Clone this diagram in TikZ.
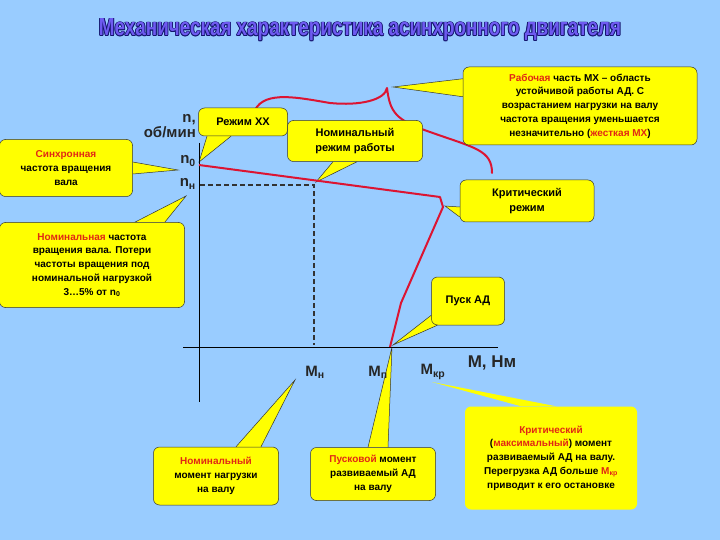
\documentclass[tikz,border=0pt]{standalone}
\usepackage{fontspec}
\setmainfont{Liberation Sans}
\usetikzlibrary{backgrounds}
\definecolor{bg}{RGB}{153,204,255}
\definecolor{yel}{RGB}{255,255,0}
\definecolor{rtx}{RGB}{225,40,20}
\definecolor{crv}{RGB}{220,20,50}
\definecolor{ttlin}{RGB}{110,90,240}
\definecolor{ttlout}{RGB}{20,20,110}
\newcommand{\rd}[1]{\textcolor{rtx}{#1}}
\newcommand{\ttl}{\resizebox{522pt}{17pt}{\bfseries Механическая характеристика асинхронного двигателя}}
\tikzset{
  call/.style={draw=black!80,line width=0.5pt,fill=yel,rounded corners=6pt,align=center,
    font=\bfseries\fontsize{10}{13.8}\selectfont,inner sep=1pt},
  big/.style={font=\bfseries\fontsize{11}{15}\selectfont},
  ptr/.style={fill=yel,draw=black!80,line width=0.5pt},
  lab/.style={font=\bfseries\fontsize{15}{15}\selectfont,text=black!85,inner sep=0pt},
  axis/.style={line width=0.7pt,black},
  dsh/.style={dashed,line width=1.2pt,black!80,dash pattern=on 5pt off 3pt},
  curve/.style={crv,line width=2pt,line join=round}
}
\begin{document}
\begin{tikzpicture}[x=1pt,y=-1pt]
\begin{scope}[on background layer]
\fill[bg] (0,0) rectangle (720,540);
\end{scope}
\useasboundingbox (0,0) rectangle (720,540);
% title
\foreach \dx/\dy in {-0.8/0,0.8/0,0/-0.8,0/0.8,-0.6/-0.6,0.6/0.6,-0.6/0.6,0.6/-0.6}
  \node[text=ttlout,inner sep=0pt] at (360+\dx,30+\dy) {\ttl};
\node[text=ttlin,inner sep=0pt] (title) at (360,30) {\ttl};
% axes
\coordinate (yt) at (199,143); \coordinate (yb) at (199,402);
\coordinate (xl) at (183,347); \coordinate (xr) at (498,347);
\draw[axis] (yt) -- (yb);
\draw[axis] (xl) -- (xr);
% dashed
\coordinate (nn) at (200,185); \coordinate (pn) at (314,185); \coordinate (mn) at (314,345);
\draw[dsh] (nn) -- (pn) -- (mn);
% curve
\coordinate (p0) at (199,165); \coordinate (pk) at (440,197);
\coordinate (pk2) at (443,207); \coordinate (pm) at (401,303); \coordinate (ps) at (390,347);
\draw[curve] (p0) -- (pk) -- (pk2) -- (pm) -- (ps);
% brace
\coordinate (bl) at (255,110); \coordinate (tip) at (387,88); \coordinate (br) at (492,173);
\draw[curve,line cap=round] (bl) .. controls (265,90) and (300,98) .. (330,103)
  .. controls (360,106) and (385,100) .. (tip)
  .. controls (390,112) and (395,120) .. (430,132)
  .. controls (475,148) and (492,150) .. (br);
% labels
\node[lab,anchor=east,align=right] (nlab) at (196,126) {n,\\об/мин};
\node[lab,anchor=east] (n0) at (196,161) {n\textsubscript{0}};
\node[lab,anchor=east] (nh) at (196,184) {n\textsubscript{н}};
\node[lab] (Mn) at (315,372) {M\textsubscript{н}};
\node[lab] (Mp) at (378,372) {M\textsubscript{п}};
\node[lab] (Mk) at (433,372) {M\textsubscript{кр}};
\node[lab,font=\bfseries\fontsize{17}{17}\selectfont] (MN) at (492,363) {M, Нм};
% callouts
\node[call,minimum width=133pt,minimum height=57pt] (c1) at (66,168) {\rd{Синхронная}\\частота вращения\\вала};
\node[call,big,minimum width=89pt,minimum height=28pt] (c2) at (243,122) {Режим ХХ};
\node[call,big,minimum width=135pt,minimum height=41pt] (c3) at (355,141) {Номинальный\\режим работы};
\node[call,minimum width=234pt,minimum height=78pt] (c4) at (580,106) {\rd{Рабочая} часть МХ – область\\устойчивой работы АД. С\\возрастанием нагрузки на валу\\частота вращения уменьшается\\незначительно (\rd{жесткая МХ})};
\node[call,big,minimum width=134pt,minimum height=42pt] (c5) at (527,201) {Критический\\режим};
\node[call,minimum width=185pt,minimum height=85pt] (c6) at (92,265) {\rd{Номинальная} частота\\вращения вала. Потери\\частоты вращения под\\номинальной нагрузкой\\3…5\% от n\textsubscript{0}};
\node[call,big,minimum width=73pt,minimum height=48pt] (c7) at (468,301) {Пуск АД};
\node[call,minimum width=125pt,minimum height=58pt] (c8) at (216,476) {\rd{Номинальный}\\момент нагрузки\\на валу};
\node[call,minimum width=125pt,minimum height=53pt] (c9) at (373,474) {\rd{Пусковой} момент\\развиваемый АД\\на валу};
\node[call,minimum width=172pt,minimum height=103pt,draw=none] (c10) at (551,458) {\rd{Критический}\\(\rd{максимальный}) момент\\развиваемый АД на валу.\\Перегрузка АД больше \rd{M\textsubscript{кр}}\\приводит к его остановке};
% pointers
\coordinate (t1) at (178,170); \coordinate (t2) at (199,162); \coordinate (t3) at (316,182);
\coordinate (t4) at (393,87); \coordinate (t5) at (445,206); \coordinate (t6) at (186,196);
\coordinate (t7) at (393,345); \coordinate (t8) at (295,380); \coordinate (t9) at (392,347);
\coordinate (t10) at (432,382);
\begin{scope}[on background layer]
\draw[ptr] ([yshift=-6pt]c1.east) -- (t1) -- ([yshift=6pt]c1.east);
\draw[ptr] ([xshift=-36pt]c2.south) -- (t2) -- ([xshift=-12pt]c2.south);
\draw[ptr] ([xshift=-22pt]c3.south) -- (t3) -- ([xshift=2pt]c3.south);
\draw[ptr] ([yshift=-30pt]c4.north west) -- (t4) -- ([yshift=-12pt]c4.north west);
\draw[ptr] ([yshift=-6pt]c5.west) -- (t5) -- ([yshift=-16pt]c5.west);
\draw[ptr] ([xshift=-50pt]c6.north east) -- (t6) -- ([xshift=-20pt]c6.north east);
\draw[ptr] ([xshift=6pt]c7.south west) -- (t7) -- ([yshift=10pt]c7.south west);
\draw[ptr] ([xshift=20pt]c8.north) -- (t8) -- ([xshift=45pt]c8.north);
\draw[ptr] ([xshift=-5pt]c9.north) -- (t9) -- ([xshift=15pt]c9.north);
\fill[yel] ([xshift=-30pt]c10.north) -- (t10) -- ([xshift=5pt]c10.north) -- cycle;
\end{scope}
\end{tikzpicture}
\end{document}
